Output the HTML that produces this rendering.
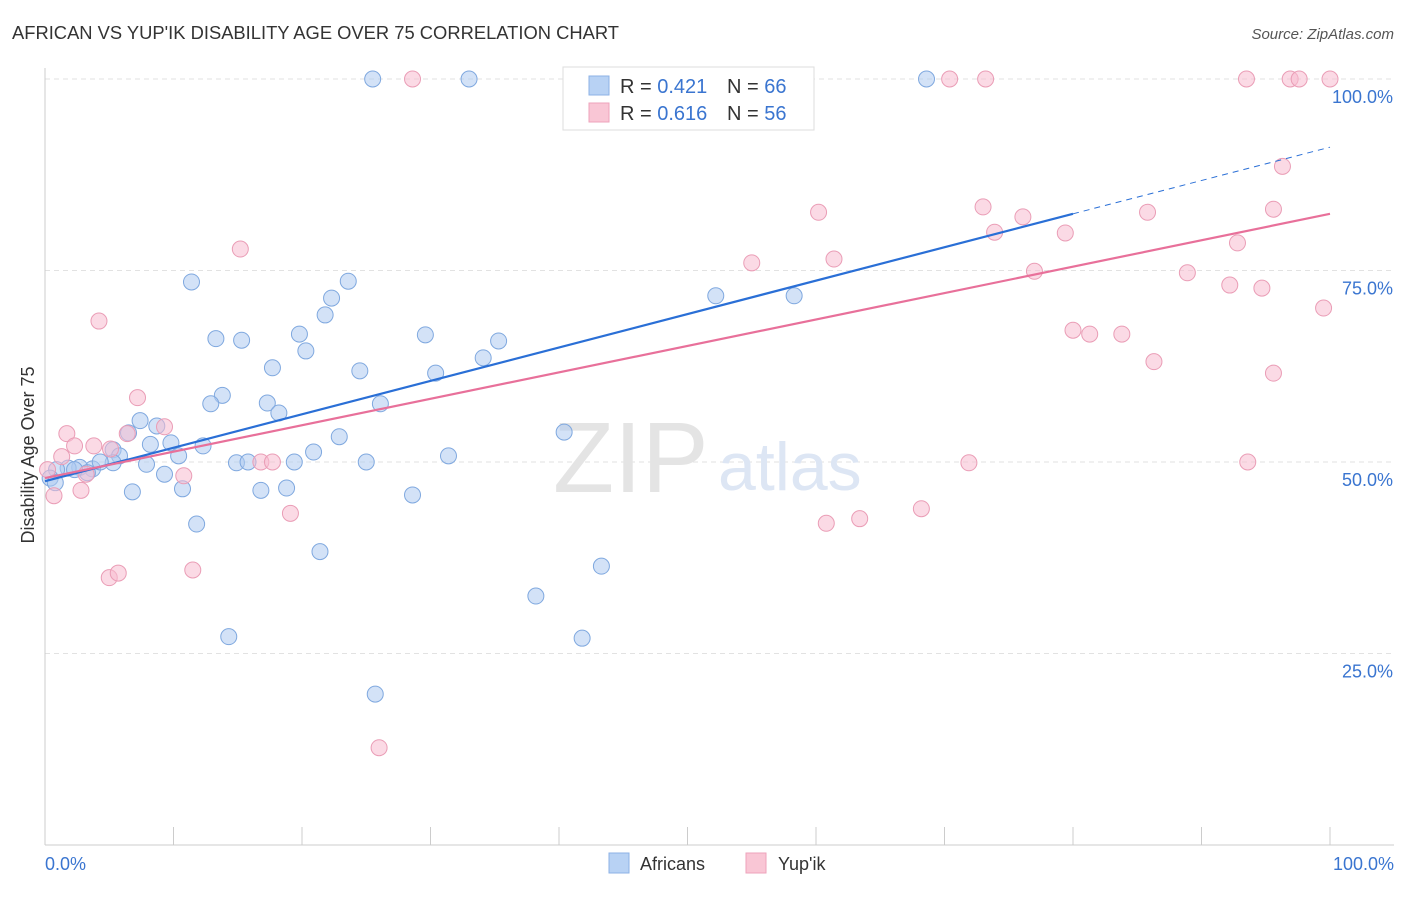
<!DOCTYPE html>
<html><head><meta charset="utf-8"><style>
body{margin:0;background:#fff;font-family:"Liberation Sans",sans-serif;}
svg text{font-family:"Liberation Sans",sans-serif;}
</style></head><body>
<svg id="chart" width="1406" height="892">
<text x="12" y="39" font-size="18.5" fill="#333" textLength="607" lengthAdjust="spacingAndGlyphs">AFRICAN VS YUP'IK DISABILITY AGE OVER 75 CORRELATION CHART</text>
<text x="1394" y="39" font-size="15" fill="#555" font-style="italic" text-anchor="end">Source: ZipAtlas.com</text>
<g id="grid"></g>
<text x="553" y="492" font-size="100" fill="#e4e4e4" font-family="Liberation Serif">ZIP</text>
<text x="718" y="490" font-size="68" fill="#dde6f4">atlas</text>
<g id="axes"></g>
<text x="34" y="455" font-size="18" fill="#333" text-anchor="middle" transform="rotate(-90 34 455)">Disability Age Over 75</text>
<g id="pts"></g>
<g id="lines"></g>
<g>
<rect x="563" y="67" width="251" height="63" fill="#fff" stroke="#ddd"/>
<rect x="589" y="76" width="20" height="19" fill="#b8d2f4" stroke="#8cb2e6"/>
<rect x="589" y="103" width="20" height="19" fill="#f9c6d5" stroke="#eea3bb"/>
<text x="620" y="93" font-size="20" fill="#333">R = <tspan fill="#3a75d0">0.421</tspan></text>
<text x="727" y="93" font-size="20" fill="#333">N = <tspan fill="#3a75d0">66</tspan></text>
<text x="620" y="120" font-size="20" fill="#333">R = <tspan fill="#3a75d0">0.616</tspan></text>
<text x="727" y="120" font-size="20" fill="#333">N = <tspan fill="#3a75d0">56</tspan></text>
</g>
<g>
<rect x="609" y="853" width="20" height="20" fill="#b8d2f4" stroke="#8cb2e6"/>
<text x="640" y="870" font-size="18" fill="#333">Africans</text>
<rect x="746" y="853" width="20" height="20" fill="#f9c6d5" stroke="#eea3bb"/>
<text x="778" y="870" font-size="18" fill="#333">Yup'ik</text>
</g>
</svg>
<script>
const yTicks=[25,50,75,100];
const yTickLabels=["25.0%","50.0%","75.0%","100.0%"];
const xEndLabels=["0.0%","100.0%"];
const africansX=[25.5,33.0,68.6,59.0,11.4,23.6,22.3,21.8,13.3,15.3,19.8,20.3,29.6,35.3,34.1,17.7,24.5,30.4,13.8,12.9,17.3,18.2,26.1,7.4,8.7,6.5,22.9,8.2,9.8,12.3,5.3,5.8,10.4,20.9,40.4,31.4,14.9,15.8,19.4,25.0,7.9,9.3,3.7,2.7,1.8,0.9,0.4,3.3,6.8,10.7,16.8,18.8,28.6,11.8,21.4,43.3,38.2,14.3,41.8,25.7,52.2,58.3,0.8,5.3,2.3,4.3];
const africansY=[100,100,100,100,73.5,73.6,71.4,69.2,66.1,65.9,66.7,64.5,66.6,65.8,63.6,62.3,61.9,61.6,58.7,57.6,57.7,56.4,57.6,55.4,54.7,53.8,53.3,52.3,52.5,52.1,51.6,50.8,50.8,51.3,53.9,50.8,49.9,50.0,50.0,50.0,49.7,48.4,49.1,49.3,49.2,49.0,47.9,48.6,46.1,46.5,46.3,46.6,45.7,41.9,38.3,36.4,32.5,27.2,27.0,19.7,71.7,71.7,47.3,49.9,49.0,50.0];
const yupikX=[28.6,58.8,70.4,73.2,93.5,96.9,97.6,100,96.3,60.2,73.0,76.1,85.8,95.6,73.9,79.4,92.8,15.2,55.0,61.4,77.0,88.9,92.2,94.7,99.5,4.2,80.0,81.3,83.8,86.3,95.6,7.2,9.3,1.7,6.4,2.3,3.8,5.1,1.3,3.2,10.8,16.8,17.7,2.8,0.7,19.1,71.9,93.6,60.8,63.4,68.2,5.0,5.7,11.5,26.0,0.2];
const yupikY=[100,100,100,100,100,100,100,100,88.6,82.6,83.3,82.0,82.6,83.0,80.0,79.9,78.6,77.8,76.0,76.5,74.9,74.7,73.1,72.7,70.1,68.4,67.2,66.7,66.7,63.1,61.6,58.4,54.6,53.7,53.7,52.1,52.1,51.7,50.7,48.4,48.2,50.0,50.0,46.3,45.6,43.3,49.9,50.0,42.0,42.6,43.9,34.9,35.5,35.9,12.7,49.0];
const africansTrend=[47.5,82.4,91.1]; // at x=0, 80, 100
const yupikTrend=[47.9,82.4]; // at x=0, 100

const NS="http://www.w3.org/2000/svg";
const sx=v=>45+v*12.85;
const sy=v=>845-v*7.66;
function mk(tag,attrs,parent){const e=document.createElementNS(NS,tag);for(const k in attrs)e.setAttribute(k,attrs[k]);parent.appendChild(e);return e;}
const grid=document.getElementById('grid'),axes=document.getElementById('axes'),pts=document.getElementById('pts'),lines=document.getElementById('lines');
yTicks.forEach((t,i)=>{
  const l=mk('line',{x1:45,x2:1394,y1:sy(t),y2:sy(t),stroke:'#e2e2e2','stroke-dasharray':'5,4'},grid);
  
  
  const tx=mk('text',{x:1393,y:sy(t)+24,'font-size':18,fill:'#3a75d0','text-anchor':'end'},axes);
  tx.textContent=yTickLabels[i];
  
  
});
const ya=mk('line',{x1:45,x2:45,y1:68,y2:845,stroke:'#ccc'},axes);


const xa=mk('line',{x1:45,x2:1394,y1:845,y2:845,stroke:'#ccc'},axes);


for(let i=1;i<=10;i++){
  const tk=mk('line',{x1:sx(i*10),x2:sx(i*10),y1:827,y2:845,stroke:'#ccc'},axes);
  
  
}
[[0,'start',45],[100,'end',1394]].forEach((d,i)=>{
  const t=mk('text',{x:d[2],y:870,'font-size':18,fill:'#3a75d0','text-anchor':d[1]},axes);
  t.textContent=xEndLabels[i];
  
  
});
function drawPts(xs,ys,fill,stroke,name){
  xs.forEach((x,i)=>{
    const c=mk('circle',{cx:sx(x),cy:sy(ys[i]),r:8,fill:fill,'fill-opacity':0.55,stroke:stroke,'stroke-width':1},pts);
    
    
  });
}
drawPts(africansX,africansY,'#aecbf0','#7fa8df','africans-point');
drawPts(yupikX,yupikY,'#f7bcd0','#ea9db6','yupik-point');
const b1=mk('line',{x1:sx(0),y1:sy(africansTrend[0]),x2:sx(80),y2:sy(africansTrend[1]),stroke:'#2a6fd6','stroke-width':2.2},lines);


const b2=mk('line',{x1:sx(80),y1:sy(africansTrend[1]),x2:sx(100),y2:sy(africansTrend[2]),stroke:'#2a6fd6','stroke-width':1,'stroke-dasharray':'6,5'},lines);


const p1=mk('line',{x1:sx(0),y1:sy(yupikTrend[0]),x2:sx(100),y2:sy(yupikTrend[1]),stroke:'#e8709a','stroke-width':2.2},lines);


</script>
</body></html>
